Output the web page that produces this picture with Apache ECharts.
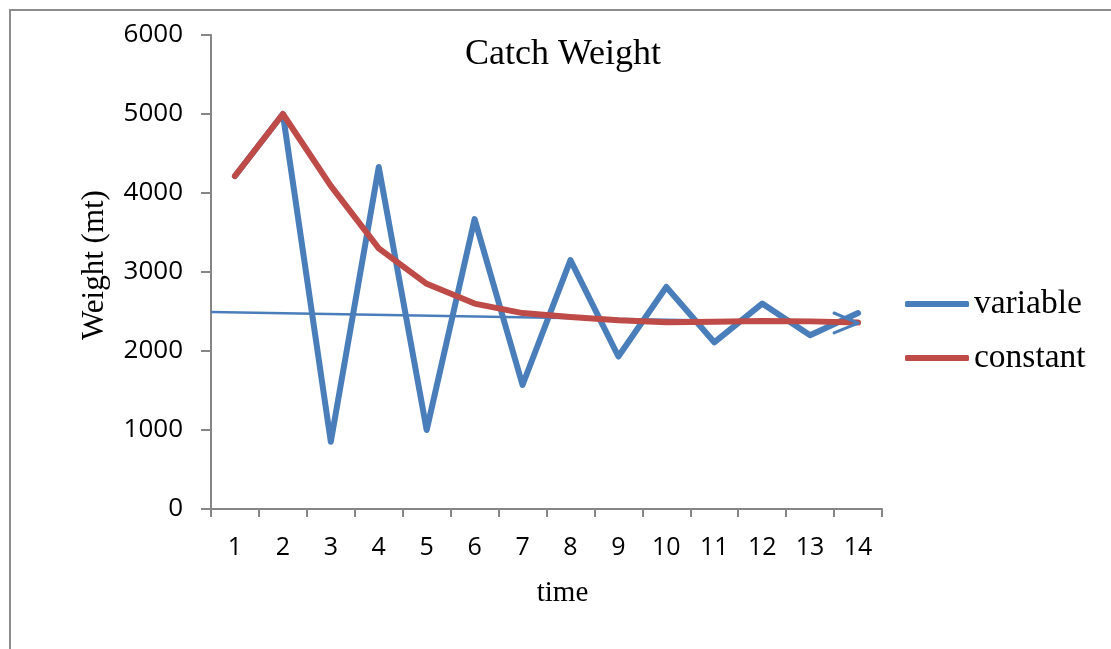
<!DOCTYPE html>
<html>
<head>
<meta charset="utf-8">
<title>Catch Weight</title>
<script src="https://cdn.jsdelivr.net/npm/echarts@6/dist/echarts.min.js"></script>
<style>
  html, body { margin: 0; padding: 0; background: #ffffff; }
  #chart { width: 1111px; height: 649px; }
</style>
</head>
<body>
<div id="chart"></div>
<script>
// Time steps along the horizontal axis
const timeSteps = ['1', '2', '3', '4', '5', '6', '7', '8', '9', '10', '11', '12', '13', '14'];

// Catch weight (mt) under a variable harvest policy
const variableCatch = [4215, 5000, 850, 4330, 1000, 3670, 1570, 3150, 1930, 2810, 2110, 2600, 2200, 2480];

// Catch weight (mt) under a constant harvest policy
const constantCatch = [4215, 5000, 4090, 3300, 2850, 2600, 2480, 2430, 2390, 2365, 2370, 2380, 2375, 2360];

// Annotation arrow (position on the time scale, weight)
const arrowShaft = [[0.5, 2494], [14, 2354]];
const arrowHeadUpper = [[13.5, 2481], [14, 2354]];
const arrowHeadLower = [[13.5, 2228], [14, 2354]];

const axisGray = '#868686';
const blue = '#4A7EBB';
const red = '#BE4B48';

const chart = echarts.init(document.getElementById('chart'), null, { renderer: 'canvas' });

chart.setOption({
  animation: false,
  backgroundColor: '#ffffff',
  graphic: [{
    type: 'rect',
    silent: true,
    shape: { x: 10, y: 10, width: 1400, height: 900 },
    style: { fill: 'none', stroke: '#8c8c8c', lineWidth: 2 },
    z: -10
  }],
  title: {
    text: 'Catch Weight',
    left: 465,
    top: 37,
    padding: 0,
    textStyle: {
      fontFamily: 'Liberation Serif',
      fontWeight: 'normal',
      fontSize: 36,
      color: '#000000'
    }
  },
  legend: {
    orient: 'vertical',
    left: 900,
    top: 279,
    itemWidth: 64,
    itemHeight: 6,
    itemGap: 14,
    icon: 'roundRect',
    data: ['variable', 'constant'],
    textStyle: {
      fontFamily: 'Liberation Serif',
      fontSize: 33.5,
      lineHeight: 40,
      color: '#000000'
    }
  },
  grid: {
    left: 211,
    right: 229,
    top: 35,
    bottom: 140,
    containLabel: false
  },
  xAxis: [{
    type: 'category',
    data: timeSteps,
    boundaryGap: true,
    name: 'time',
    nameLocation: 'middle',
    nameGap: 70,
    nameTextStyle: {
      fontFamily: 'Liberation Serif',
      fontSize: 29,
      color: '#000000',
      padding: [0, 0, 0, 32]
    },
    axisLine: { lineStyle: { color: axisGray, width: 2 } },
    axisTick: { show: true, length: 8, lineStyle: { color: axisGray, width: 2 } },
    axisLabel: {
      margin: 26,
      fontFamily: 'Open Sans',
      fontSize: 25,
      color: '#000000'
    },
    splitLine: { show: false }
  }, {
    type: 'value',
    min: 0.5,
    max: 14.5,
    show: false,
    splitLine: { show: false }
  }],
  yAxis: {
    type: 'value',
    min: 0,
    max: 6000,
    interval: 1000,
    name: 'Weight (mt)',
    nameLocation: 'middle',
    nameGap: 101,
    nameRotate: 90,
    nameTextStyle: {
      fontFamily: 'Liberation Serif',
      fontSize: 31,
      color: '#000000',
      padding: [0, 0, 0, 14]
    },
    axisLine: { show: true, lineStyle: { color: axisGray, width: 2 } },
    axisTick: { show: true, length: 10, lineStyle: { color: axisGray, width: 2 } },
    axisLabel: {
      margin: 28,
      fontFamily: 'Open Sans',
      fontSize: 26,
      color: '#000000',
      formatter: function (v) { return String(v); }
    },
    splitLine: { show: false }
  },
  series: [
    {
      name: 'arrow',
      type: 'line',
      xAxisIndex: 1,
      data: arrowShaft,
      symbol: 'none',
      silent: true,
      lineStyle: { color: blue, width: 2.5 },
      z: 1
    },
    {
      name: 'arrowHeadUpper',
      type: 'line',
      xAxisIndex: 1,
      data: arrowHeadUpper,
      symbol: 'none',
      silent: true,
      lineStyle: { color: blue, width: 3, cap: 'round' },
      z: 4
    },
    {
      name: 'arrowHeadLower',
      type: 'line',
      xAxisIndex: 1,
      data: arrowHeadLower,
      symbol: 'none',
      silent: true,
      lineStyle: { color: blue, width: 3, cap: 'round' },
      z: 4
    },
    {
      name: 'variable',
      type: 'line',
      data: variableCatch,
      symbol: 'none',
      lineStyle: { color: blue, width: 6, cap: 'round', join: 'round' },
      itemStyle: { color: blue },
      z: 2
    },
    {
      name: 'constant',
      type: 'line',
      data: constantCatch,
      symbol: 'none',
      lineStyle: { color: red, width: 6, cap: 'round', join: 'round' },
      itemStyle: { color: red },
      z: 3
    }
  ]
});
</script>
</body>
</html>
